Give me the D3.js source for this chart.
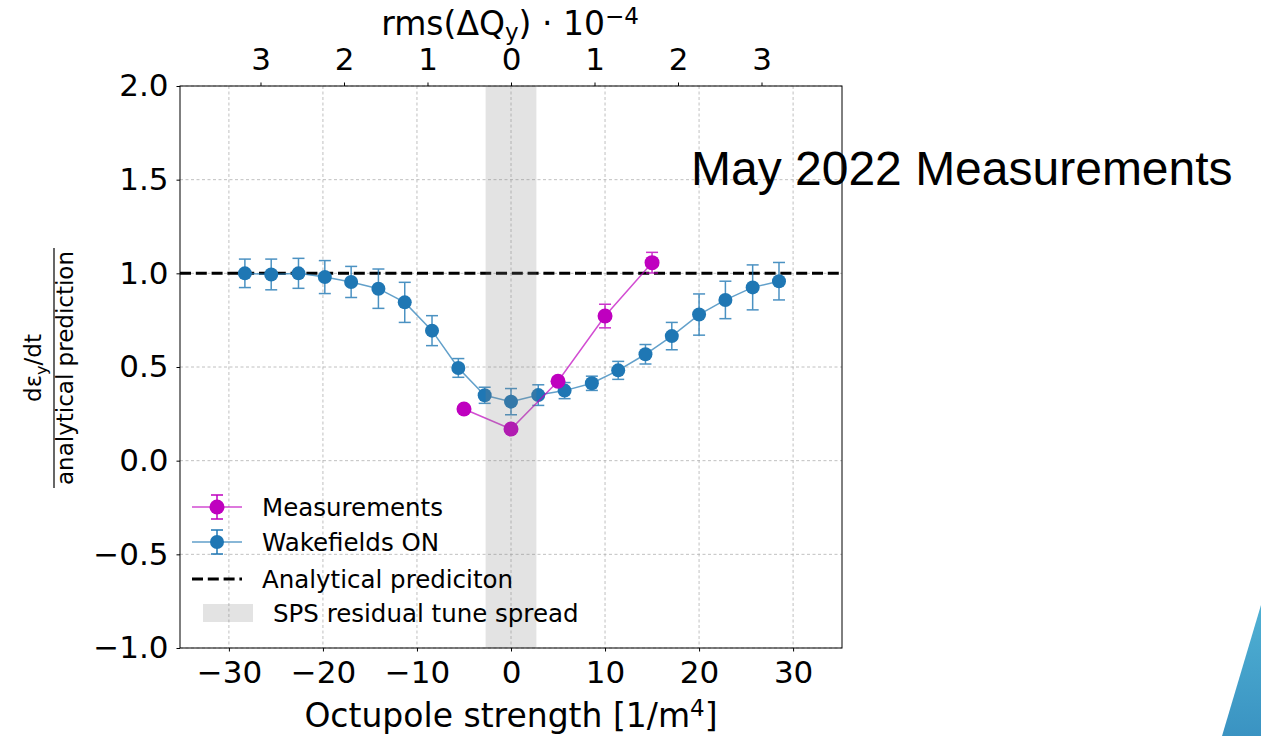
<!DOCTYPE html>
<html lang="en">
<head>
<meta charset="UTF-8">
<title>Octupole scan</title>
<script src="https://unpkg.com/d3@7.8.5/dist/d3.min.js"></script>
<style>
  body { margin: 0; background: #fff; }
  svg { display: block; font-family: "DejaVu Sans", sans-serif; }
</style>
</head>
<body>
<svg width="1261" height="736"></svg>
<script>
// wakefields ON simulation
var wakeX   = [-28.3, -25.5, -22.6, -19.8, -17.0, -14.1, -11.3, -8.4, -5.6, -2.8, 0, 2.9, 5.7, 8.6, 11.4, 14.3, 17.1, 20.0, 22.8, 25.7, 28.5]
var wakeY   = [1.0, 0.994, 1.0, 0.98, 0.954, 0.918, 0.845, 0.694, 0.495, 0.349, 0.315, 0.35, 0.374, 0.413, 0.482, 0.568, 0.665, 0.78, 0.858, 0.925, 0.958]
var wakeErr = [0.076, 0.082, 0.08, 0.088, 0.083, 0.105, 0.107, 0.08, 0.05, 0.043, 0.07, 0.055, 0.043, 0.038, 0.048, 0.052, 0.073, 0.11, 0.1, 0.12, 0.1]
// measurements
var measX   = [-5, 0, 5, 10, 15]
var measY   = [0.276, 0.169, 0.424, 0.772, 1.057]
var measErr = [0.01, 0.01, 0.02, 0.063, 0.055]
// ticks
var xTicks = [-30, -20, -10, 0, 10, 20, 30]
var yTicks = [-1.0, -0.5, 0.0, 0.5, 1.0, 1.5, 2.0]
var topTicks = [-3, -2, -1, 0, 1, 2, 3]
var kPerRms = 8.88        // octupole strength per 1e-4 rms tune spread
var spread = [-2.7, 2.7]  // SPS residual tune spread band
var analytical = 1.0

var svg = d3.select('svg')
var L = 180, R = 842, T = 86, B = 648
var x = d3.scaleLinear().domain([-35.2, 35.2]).range([L, R])
var y = d3.scaleLinear().domain([-1, 2]).range([B, T])
var fmt = d => (d < 0 ? '\u2212' : '') + Math.abs(d)

var blue = '#1f77b4', mag = '#bf00bf'

// grid
var grid = svg.append('g').attr('stroke', '#b0b0b0').attr('stroke-width', 0.8).attr('stroke-dasharray', '3,2.5')
grid.selectAll('.gx').data(xTicks).enter().append('line')
  .attr('x1', d => x(d)).attr('x2', d => x(d)).attr('y1', T).attr('y2', B)
grid.selectAll('.gy').data(yTicks).enter().append('line')
  .attr('y1', d => y(d)).attr('y2', d => y(d)).attr('x1', L).attr('x2', R)

// analytical prediction
svg.append('line').attr('x1', L).attr('x2', R).attr('y1', y(analytical)).attr('y2', y(analytical))
  .attr('stroke', '#000').attr('stroke-width', 3).attr('stroke-dasharray', '11,4.8')

function series(xs, ys, es, col, r, lineOp) {
  var g = svg.append('g')
  var pts = xs.map((v, i) => [v, ys[i], es[i]])
  g.append('path').datum(pts)
    .attr('d', d3.line().x(d => x(d[0])).y(d => y(d[1])))
    .attr('fill', 'none').attr('stroke', col).attr('stroke-width', 1.5).attr('opacity', lineOp)
  var eb = g.selectAll('.eb').data(pts).enter().append('g')
    .attr('stroke', col).attr('stroke-width', 1.5).attr('opacity', 0.8)
  eb.append('line').attr('x1', d => x(d[0])).attr('x2', d => x(d[0]))
    .attr('y1', d => y(d[1] - d[2])).attr('y2', d => y(d[1] + d[2]))
  eb.append('line').attr('x1', d => x(d[0]) - 6).attr('x2', d => x(d[0]) + 6)
    .attr('y1', d => y(d[1] - d[2])).attr('y2', d => y(d[1] - d[2]))
  eb.append('line').attr('x1', d => x(d[0]) - 6).attr('x2', d => x(d[0]) + 6)
    .attr('y1', d => y(d[1] + d[2])).attr('y2', d => y(d[1] + d[2]))
  g.selectAll('circle').data(pts).enter().append('circle')
    .attr('cx', d => x(d[0])).attr('cy', d => y(d[1])).attr('r', r).attr('fill', col)
}
series(wakeX, wakeY, wakeErr, blue, 7, 0.7)
series(measX, measY, measErr, mag, 7.5, 0.7)

// tune spread band
svg.append('rect').attr('x', x(spread[0])).attr('width', x(spread[1]) - x(spread[0]))
  .attr('y', T).attr('height', B - T).attr('fill', '#808080').attr('opacity', 0.22)

// frame
svg.append('rect').attr('x', L).attr('y', T).attr('width', R - L).attr('height', B - T)
  .attr('fill', 'none').attr('stroke', '#000').attr('stroke-width', 1)

// axes
var xAxis = svg.append('g').attr('transform', 'translate(0,' + B + ')')
  .call(d3.axisBottom(x).tickValues(xTicks).tickFormat(fmt).tickSize(3.5).tickPadding(9.5))
var yAxis = svg.append('g').attr('transform', 'translate(' + L + ',0)')
  .call(d3.axisLeft(y).tickValues(yTicks).tickFormat(d => d3.format('.1f')(d).replace('-', '\u2212')).tickSize(3.5).tickPadding(8))
var xTop = svg.append('g').attr('transform', 'translate(0,' + T + ')')
  .call(d3.axisTop(x).tickValues(topTicks.map(v => v * kPerRms)).tickFormat((d, i) => Math.abs(topTicks[i])).tickSize(3.5).tickPadding(12.5))
;[xAxis, yAxis, xTop].forEach(a => {
  a.select('.domain').remove()
  a.selectAll('text').attr('font-size', 31).attr('font-family', 'DejaVu Sans').attr('fill', '#000')
  a.selectAll('line').attr('stroke', '#000')
})

// axis labels
svg.append('text').attr('x', 511).attr('y', 727).attr('text-anchor', 'middle').attr('font-size', 33)
  .html('Octupole strength [1/m<tspan dy="-11" font-size="23">4</tspan><tspan dy="11">]</tspan>')
svg.append('text').attr('x', 510).attr('y', 35).attr('text-anchor', 'middle').attr('font-size', 33)
  .html('rms(\u0394Q<tspan dy="5" font-size="23">y</tspan><tspan dy="-5">) \u00b7 10</tspan><tspan dy="-11" font-size="23">\u22124</tspan>')

// y label as fraction
var yl = svg.append('g').attr('font-size', 23)
yl.append('text').attr('transform', 'translate(41,368) rotate(-90)').attr('text-anchor', 'middle')
  .html('d\u03b5<tspan dy="6" font-size="16">y</tspan><tspan dy="-6">/dt</tspan>')
yl.append('line').attr('x1', 54).attr('x2', 54).attr('y1', 248).attr('y2', 488).attr('stroke', '#000').attr('stroke-width', 1.2)
yl.append('text').attr('transform', 'translate(73,368) rotate(-90)').attr('text-anchor', 'middle')
  .text('analytical prediction')

// legend
var lg = svg.append('g').attr('font-size', 24.5)
var legendItems = [
  { name: 'Measurements', col: mag, kind: 'eb' },
  { name: 'Wakefields ON', col: blue, kind: 'eb' },
  { name: 'Analytical prediciton', kind: 'dash' },
  { name: 'SPS residual tune spread', kind: 'band' }
]
var ly = [507, 542, 579, 613]
legendItems.forEach((it, i) => {
  var cy = ly[i]
  if (it.kind == 'eb') {
    lg.append('line').attr('x1', 192).attr('x2', 242).attr('y1', cy).attr('y2', cy).attr('stroke', it.col).attr('stroke-width', 1.5).attr('opacity', 0.7)
    lg.append('line').attr('x1', 217).attr('x2', 217).attr('y1', cy - 12).attr('y2', cy + 12).attr('stroke', it.col).attr('stroke-width', 1.5)
    lg.append('line').attr('x1', 211).attr('x2', 223).attr('y1', cy - 12).attr('y2', cy - 12).attr('stroke', it.col).attr('stroke-width', 1.5)
    lg.append('line').attr('x1', 211).attr('x2', 223).attr('y1', cy + 12).attr('y2', cy + 12).attr('stroke', it.col).attr('stroke-width', 1.5)
    lg.append('circle').attr('cx', 217).attr('cy', cy).attr('r', i == 0 ? 7.5 : 7).attr('fill', it.col)
  } else if (it.kind == 'dash') {
    lg.append('line').attr('x1', 192).attr('x2', 242).attr('y1', cy).attr('y2', cy).attr('stroke', '#000').attr('stroke-width', 3).attr('stroke-dasharray', '11,4.8')
  } else {
    lg.append('rect').attr('x', 203).attr('y', cy - 9).attr('width', 50).attr('height', 18).attr('fill', '#808080').attr('opacity', 0.22)
  }
  lg.append('text').attr('x', it.kind == 'band' ? 273 : 262).attr('y', cy + 9).text(it.name)
})

// slide title
svg.append('text').attr('x', 691).attr('y', 185).attr('font-family', 'Liberation Sans, Arial, sans-serif')
  .attr('font-size', 48).attr('fill', '#000').text('May 2022 Measurements')

// corner decoration
var grad = svg.append('defs').append('linearGradient').attr('id', 'corner').attr('x1', 0).attr('y1', 0).attr('x2', 0).attr('y2', 1)
grad.append('stop').attr('offset', 0).attr('stop-color', '#4fb0d3')
grad.append('stop').attr('offset', 1).attr('stop-color', '#3a93c2')
svg.append('path').attr('d', 'M1222,736L1261,605L1261,736Z').attr('fill', 'url(#corner)')
</script>
</body>
</html>
